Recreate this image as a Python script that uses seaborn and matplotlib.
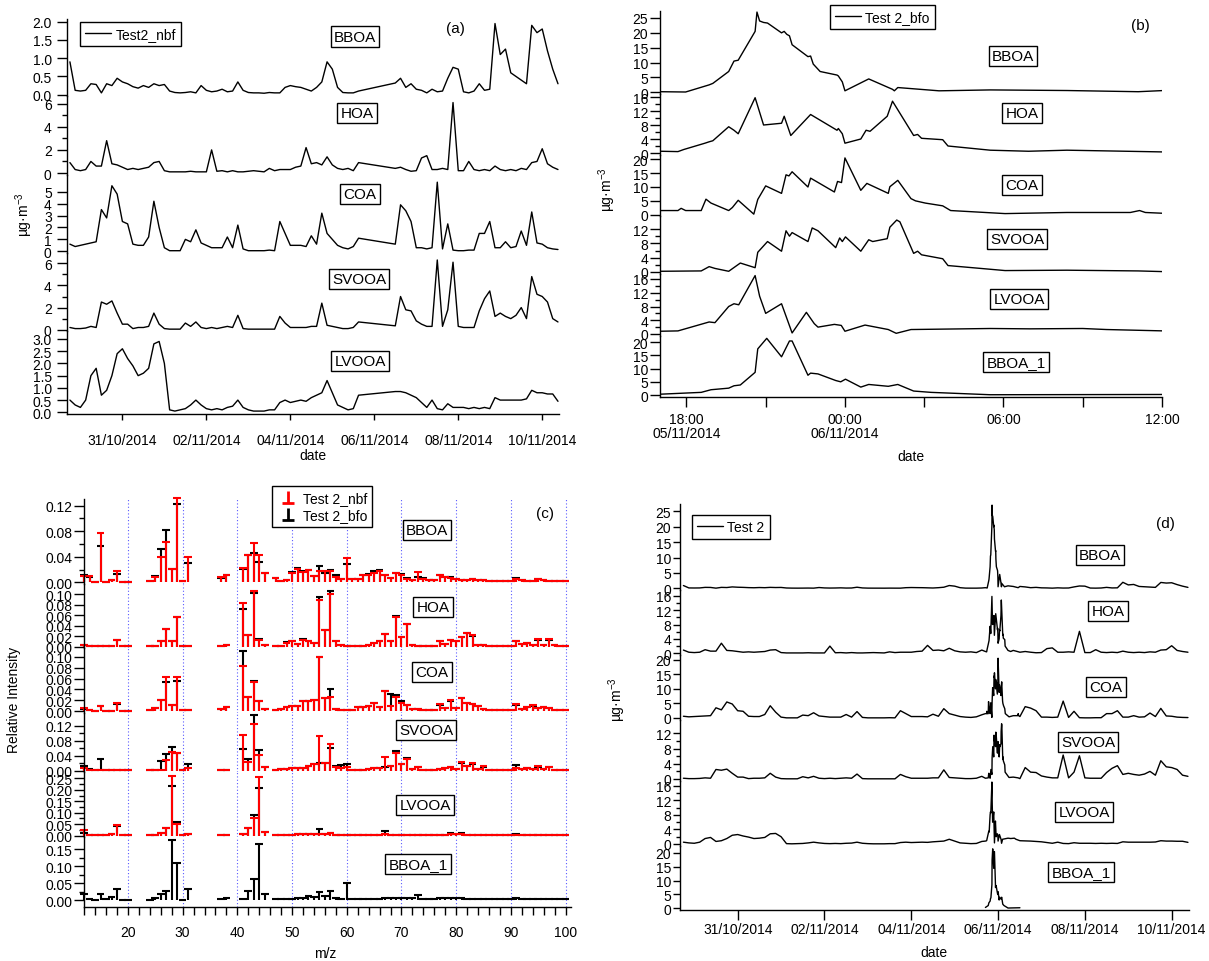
import numpy as np
import pandas as pd
import matplotlib
matplotlib.use("Agg")
import matplotlib.pyplot as plt
import matplotlib.dates as mdates
from matplotlib.ticker import FixedLocator, FormatStrFormatter, MultipleLocator
from matplotlib.lines import Line2D
from matplotlib.path import Path
import seaborn as sns

# ---------------- data ----------------
factors = ["BBOA", "HOA", "COA", "SVOOA", "LVOOA", "BBOA_1"]

# panel (a): Test2_nbf, 3-hourly readings (gap 05/11 16h - 06/11 11h)
bboa_a = [
    0.9, 0.12,
    0.1, 0.12, 0.3, 0.28, 0.05, 0.3, 0.25, 0.45,
    0.35, 0.3, 0.22, 0.18, 0.25, 0.2, 0.3, 0.25,
    0.28, 0.1, 0.06, 0.05, 0.06, 0.08, 0.05, 0.25,
    0.12, 0.08, 0.1, 0.15, 0.08, 0.1, 0.35, 0.12,
    0.06, 0.05, 0.05, 0.04, 0.06, 0.05, 0.05, 0.2,
    0.25, 0.22, 0.2, 0.15, 0.1, 0.2, 0.35, 0.9,
    0.7, 0.2, 0.06, 0.05, 0.05, 0.1,
    0.32, 0.45, 0.2, 0.3,
    0.15, 0.12, 0.05, 0.15, 0.08, 0.1, 0.45, 0.75,
    0.7, 0.08, 0.05, 0.1, 0.3, 0.12, 0.15, 1.95,
    1.1, 1.25, 0.6, 0.5, 0.4, 0.3, 1.9, 1.7,
    1.8, 1.2, 0.7, 0.3,
]
hoa_a = [
    0.9, 0.3,
    0.2, 0.3, 1.0, 0.6, 0.6, 2.8, 0.8, 0.7,
    0.5, 0.3, 0.4, 0.3, 0.4, 0.5, 0.9, 1.0,
    0.2, 0.1, 0.1, 0.1, 0.1, 0.15, 0.1, 0.1,
    0.1, 2.0, 0.15, 0.2, 0.1, 0.2, 0.1, 0.1,
    0.15, 0.2, 0.15, 0.1, 0.4, 0.2, 0.3, 0.3,
    0.3, 0.5, 0.6, 2.2, 0.8, 0.9, 0.7, 1.4,
    0.7, 0.4, 0.3, 0.4, 0.2, 0.9,
    0.4, 0.5, 0.3, 0.15,
    0.2, 1.3, 1.5, 0.3, 0.3, 0.4, 0.3, 6.1,
    0.2, 0.2, 1.0, 0.3, 0.2, 0.3, 0.2, 0.6,
    0.3, 0.2, 0.3, 0.2, 0.4, 0.3, 0.9, 1.0,
    2.1, 0.8, 0.5, 0.3,
]
coa_a = [
    0.6, 0.4,
    0.5, 0.6, 0.7, 0.8, 3.5, 2.8, 5.5, 4.8,
    2.5, 2.3, 0.6, 0.5, 0.5, 1.2, 4.2, 2.0,
    0.3, 0.05, 0.05, 0.05, 1.0, 0.8, 1.8, 0.7,
    0.5, 0.3, 0.3, 0.3, 1.2, 0.3, 2.2, 0.2,
    0.05, 0.05, 0.05, 0.05, 0.1, 0.05, 2.5, 1.5,
    0.5, 0.5, 0.5, 0.4, 1.3, 0.6, 3.2, 1.5,
    1.0, 0.5, 0.3, 0.2, 0.4, 1.1,
    0.6, 3.9, 3.4, 2.5,
    0.3, 0.3, 0.2, 0.3, 5.8, 0.2, 2.3, 0.1,
    0.05, 0.05, 0.1, 0.1, 1.5, 1.5, 2.5, 0.3,
    0.3, 0.8, 0.3, 0.4, 1.7, 0.5, 3.3, 0.7,
    0.6, 0.3, 0.2, 0.15,
]
svooa_a = [
    0.2, 0.1,
    0.1, 0.15, 0.3, 0.2, 2.5, 2.3, 2.6, 1.5,
    0.5, 0.5, 0.1, 0.2, 0.2, 0.3, 1.5, 0.5,
    0.1, 0.05, 0.05, 0.05, 0.6, 0.3, 0.7, 0.2,
    0.1, 0.2, 0.1, 0.2, 0.3, 0.2, 1.3, 0.1,
    0.05, 0.05, 0.05, 0.05, 0.05, 0.05, 1.2, 0.6,
    0.2, 0.2, 0.2, 0.2, 0.3, 0.3, 2.4, 0.4,
    0.3, 0.2, 0.1, 0.1, 0.2, 0.7,
    0.35, 3.0, 1.8, 1.7,
    0.8, 0.5, 0.3, 0.3, 6.3, 0.3, 1.8, 6.1,
    0.3, 0.2, 0.2, 0.2, 1.7, 2.8, 3.5, 1.2,
    1.5, 1.2, 1.0, 1.3, 2.0, 1.0, 4.8, 3.2,
    3.0, 2.5, 1.0, 0.7,
]
lvooa_a = [
    0.5, 0.3,
    0.2, 0.5, 1.5, 1.8, 0.7, 0.9, 1.5, 2.4,
    2.6, 2.2, 1.9, 1.5, 1.6, 1.8, 2.8, 2.9,
    2.0, 0.1, 0.05, 0.1, 0.15, 0.3, 0.5, 0.3,
    0.15, 0.1, 0.15, 0.1, 0.2, 0.25, 0.5, 0.2,
    0.1, 0.05, 0.05, 0.05, 0.1, 0.1, 0.4, 0.5,
    0.4, 0.45, 0.5, 0.45, 0.6, 0.7, 0.8, 1.3,
    0.8, 0.3, 0.2, 0.1, 0.15, 0.7,
    0.85, 0.85, 0.8, 0.7,
    0.6, 0.4, 0.2, 0.5, 0.15, 0.1, 0.35, 0.2,
    0.2, 0.2, 0.15, 0.2, 0.15, 0.2, 0.15, 0.6,
    0.5, 0.5, 0.5, 0.5, 0.5, 0.55, 0.9, 0.8,
    0.8, 0.75, 0.75, 0.45,
]

# panel (b): Test 2_bfo, hours counted from 05/11/2014 00:00
hrs_bboa_b = [17.0, 17.97, 18.86, 19.0, 19.6, 19.8, 19.96, 20.6, 20.67, 20.77, 20.92, 21.07,
              21.6, 21.7, 21.8, 21.9, 22.0, 22.6, 22.7, 22.8, 23.06, 23.7, 23.75, 23.9, 24.0,
              24.9, 25.8, 25.87, 26.0, 27.56, 29.5, 32.4, 35.1, 36.08]
bboa_b = [0.2, 0.1, 2.5, 3.0, 7.0, 10.5, 10.8, 20.5, 27.0, 24.0, 23.5, 23.3,
          20.0, 20.5, 19.5, 19.0, 16.0, 12.0, 12.2, 9.5, 7.0, 5.8, 5.5, 3.5, 0.5,
          4.5, 1.0, 0.5, 1.6, 0.5, 0.8, 0.6, 0.2, 0.6]
hrs_hoa_b = [17.0, 17.68, 17.9, 18.7, 18.86, 19.0, 19.6, 19.8, 19.96, 20.6, 20.92, 21.6,
             21.7, 21.95, 22.7, 23.7, 23.75, 23.9, 24.0, 24.6, 24.8, 24.95, 25.6, 25.8,
             26.6, 26.75, 26.9, 27.7, 27.9, 29.5, 30.95, 32.4, 33.9, 36.08]
hoa_b = [0.5, 0.4, 1.0, 2.8, 3.2, 3.5, 7.5, 6.5, 5.5, 15.8, 8.0, 8.5,
         10.5, 5.0, 11.0, 6.5, 7.0, 5.5, 2.8, 4.0, 6.5, 6.2, 10.5, 14.8,
         5.0, 5.3, 4.2, 3.8, 2.0, 0.8, 0.5, 0.8, 0.6, 0.3]
hrs_coa_b = [17.0, 17.68, 17.8, 17.97, 18.56, 18.74, 18.93, 19.6, 19.74, 19.96, 20.55, 20.7,
             21.0, 21.6, 21.77, 21.88, 22.0, 22.6, 22.7, 23.6, 23.72, 23.87, 24.0, 24.6,
             24.83, 25.64, 25.7, 26.0, 26.5, 26.67, 27.04, 27.7, 28.0, 30.06, 32.4, 34.8,
             35.15, 35.37, 36.08]
coa_b = [1.5, 1.5, 2.3, 1.5, 1.5, 5.6, 4.2, 1.5, 2.6, 5.2, 0.2, 5.5,
         10.4, 7.7, 14.4, 14.0, 15.5, 10.0, 13.2, 8.2, 12.0, 11.6, 20.5, 8.8,
         11.3, 7.7, 10.1, 12.4, 5.8, 5.0, 4.2, 3.2, 1.5, 0.4, 0.8, 0.8,
         1.5, 0.8, 0.5]
hrs_svooa_b = [17.0, 18.56, 18.86, 19.08, 19.6, 20.04, 20.6, 20.7, 21.07, 21.6, 21.77, 21.9,
               22.0, 22.6, 22.76, 22.98, 23.65, 23.8, 23.9, 24.02, 24.6, 24.9, 25.05, 25.6,
               25.7, 25.96, 26.08, 26.6, 26.75, 26.9, 27.7, 27.9, 30.06, 32.4, 35.1, 36.08]
svooa_b = [0.2, 0.3, 1.5, 1.0, 0.2, 2.5, 1.2, 5.5, 8.5, 5.8, 11.5, 10.0,
           11.0, 8.5, 12.3, 11.5, 6.8, 9.5, 8.5, 9.8, 5.8, 9.0, 8.5, 9.3,
           12.5, 14.5, 14.0, 5.2, 5.8, 4.8, 3.7, 1.8, 0.4, 0.5, 0.3, 0.1]
hrs_lvooa_b = [17.0, 17.68, 18.86, 19.08, 19.6, 19.8, 19.98, 20.6, 20.77, 21.0, 21.6, 22.0,
               22.54, 22.84, 22.98, 23.6, 23.86, 24.0, 24.76, 25.64, 25.94, 26.5, 29.5, 31.0,
               33.0, 33.9, 36.08]
lvooa_b = [0.8, 0.9, 3.5, 3.3, 8.0, 8.8, 8.5, 17.0, 11.0, 6.0, 8.8, 0.3,
           6.3, 3.0, 2.0, 2.8, 2.5, 0.8, 2.6, 1.3, 0.2, 1.3, 1.6, 1.5,
           1.6, 1.3, 0.9]
hrs_bboa1_b = [17.0, 18.56, 18.93, 19.6, 19.8, 20.04, 20.6, 20.7, 21.04, 21.6, 21.8, 21.9,
               22.0, 22.6, 22.7, 22.98, 23.65, 23.84, 24.02, 24.6, 24.9, 25.64, 26.0, 26.6,
               27.26, 29.5, 36.08]
bboa1_b = [0.3, 1.0, 2.0, 2.6, 3.5, 3.8, 8.6, 17.5, 21.5, 14.5, 18.5, 20.5,
           20.5, 7.5, 8.3, 8.0, 5.5, 5.0, 6.0, 3.0, 4.0, 3.3, 4.0, 1.5,
           1.0, 0.1, 0.2]

# panel (c): mass spectra, m/z 12-20, 24-31, 37-38, 41-45, 47-100
mz = np.array(list(range(12, 21)) + list(range(24, 32)) + [37, 38]
              + list(range(41, 46)) + list(range(47, 101)))
bboa_nbf = [0.010, 0.010, 0.001, 0.077, 0.001, 0.003, 0.017, 0.001, 0.001,
            0.002, 0.008, 0.039, 0.063, 0.021, 0.132, 0.002, 0.040,
            0.008, 0.011,
            0.022, 0.043, 0.062, 0.043, 0.015,
            0.007, 0.002, 0.003, 0.015, 0.021, 0.016, 0.020, 0.010, 0.018, 0.017,
            0.017, 0.008, 0.005, 0.038, 0.005, 0.005, 0.011, 0.012, 0.014, 0.018,
            0.012, 0.006, 0.015, 0.012, 0.005, 0.004, 0.016, 0.005, 0.003, 0.004,
            0.012, 0.008, 0.007, 0.005, 0.004, 0.003, 0.005, 0.004, 0.003, 0.002,
            0.002, 0.002, 0.002, 0.002, 0.005, 0.003, 0.002, 0.002, 0.005, 0.003,
            0.002, 0.002, 0.002, 0.002]
bboa_bfo = [0.012, 0.008, 0.001, 0.057, 0.001, 0.003, 0.013, 0.001, 0.001,
            0.002, 0.010, 0.052, 0.082, 0.021, 0.122, 0.002, 0.030,
            0.007, 0.012,
            0.021, 0.042, 0.046, 0.032, 0.014,
            0.006, 0.002, 0.003, 0.016, 0.023, 0.017, 0.019, 0.010, 0.026, 0.015,
            0.020, 0.012, 0.005, 0.029, 0.005, 0.005, 0.011, 0.013, 0.017, 0.019,
            0.012, 0.007, 0.015, 0.013, 0.006, 0.004, 0.009, 0.006, 0.003, 0.004,
            0.012, 0.009, 0.008, 0.005, 0.004, 0.003, 0.005, 0.004, 0.003, 0.002,
            0.002, 0.002, 0.002, 0.002, 0.006, 0.003, 0.002, 0.002, 0.005, 0.003,
            0.002, 0.002, 0.002, 0.002]
hoa_nbf = [0.003, 0.001, 0.001, 0.001, 0.001, 0.001, 0.013, 0.001, 0.001,
           0.001, 0.002, 0.011, 0.034, 0.011, 0.056, 0.001, 0.001,
           0.002, 0.004,
           0.083, 0.023, 0.107, 0.013, 0.003,
           0.002, 0.002, 0.008, 0.011, 0.005, 0.013, 0.011, 0.008, 0.089, 0.031,
           0.100, 0.010, 0.003, 0.001, 0.001, 0.001, 0.002, 0.004, 0.008, 0.010,
           0.024, 0.010, 0.056, 0.018, 0.043, 0.003, 0.002, 0.002, 0.002, 0.002,
           0.011, 0.005, 0.012, 0.010, 0.019, 0.026, 0.022, 0.004, 0.003, 0.002,
           0.002, 0.002, 0.002, 0.002, 0.011, 0.005, 0.008, 0.004, 0.014, 0.004,
           0.014, 0.003, 0.002, 0.001]
hoa_bfo = [0.003, 0.001, 0.001, 0.001, 0.001, 0.001, 0.012, 0.001, 0.001,
           0.001, 0.002, 0.011, 0.034, 0.011, 0.057, 0.001, 0.001,
           0.002, 0.004,
           0.072, 0.023, 0.103, 0.015, 0.003,
           0.002, 0.002, 0.009, 0.011, 0.005, 0.014, 0.011, 0.008, 0.094, 0.031,
           0.107, 0.010, 0.003, 0.001, 0.001, 0.001, 0.002, 0.004, 0.008, 0.010,
           0.025, 0.010, 0.058, 0.018, 0.044, 0.003, 0.002, 0.002, 0.002, 0.002,
           0.010, 0.005, 0.012, 0.010, 0.019, 0.027, 0.021, 0.004, 0.003, 0.002,
           0.002, 0.002, 0.002, 0.002, 0.010, 0.005, 0.008, 0.004, 0.013, 0.004,
           0.013, 0.003, 0.002, 0.001]
coa_nbf = [0.006, 0.003, 0.001, 0.009, 0.001, 0.001, 0.015, 0.001, 0.001,
           0.002, 0.006, 0.021, 0.063, 0.012, 0.063, 0.002, 0.002,
           0.005, 0.008,
           0.083, 0.027, 0.053, 0.018, 0.004,
           0.003, 0.005, 0.008, 0.010, 0.009, 0.019, 0.019, 0.021, 0.099, 0.025,
           0.026, 0.005, 0.003, 0.003, 0.002, 0.008, 0.008, 0.010, 0.016, 0.008,
           0.037, 0.010, 0.026, 0.016, 0.012, 0.005, 0.004, 0.003, 0.003, 0.003,
           0.013, 0.006, 0.021, 0.006, 0.025, 0.016, 0.013, 0.009, 0.004, 0.002,
           0.002, 0.002, 0.002, 0.003, 0.013, 0.005, 0.007, 0.011, 0.006, 0.007,
           0.006, 0.003, 0.002, 0.002]
coa_bfo = [0.005, 0.003, 0.001, 0.009, 0.001, 0.001, 0.013, 0.001, 0.001,
           0.002, 0.006, 0.020, 0.053, 0.012, 0.055, 0.002, 0.002,
           0.005, 0.008,
           0.111, 0.027, 0.055, 0.018, 0.004,
           0.003, 0.005, 0.008, 0.010, 0.009, 0.019, 0.019, 0.021, 0.100, 0.025,
           0.041, 0.005, 0.003, 0.003, 0.002, 0.008, 0.008, 0.010, 0.015, 0.008,
           0.038, 0.032, 0.029, 0.018, 0.012, 0.005, 0.004, 0.003, 0.003, 0.003,
           0.012, 0.006, 0.019, 0.006, 0.024, 0.016, 0.013, 0.009, 0.004, 0.002,
           0.002, 0.002, 0.002, 0.003, 0.012, 0.005, 0.007, 0.010, 0.006, 0.007,
           0.006, 0.003, 0.002, 0.002]
svooa_nbf = [0.008, 0.003, 0.001, 0.003, 0.002, 0.002, 0.002, 0.001, 0.001,
             0.001, 0.002, 0.003, 0.028, 0.051, 0.048, 0.002, 0.006,
             0.001, 0.002,
             0.095, 0.023, 0.124, 0.042, 0.011,
             0.003, 0.004, 0.005, 0.006, 0.008, 0.008, 0.012, 0.017, 0.093, 0.020,
             0.072, 0.010, 0.008, 0.010, 0.003, 0.003, 0.003, 0.005, 0.008, 0.006,
             0.036, 0.012, 0.047, 0.017, 0.030, 0.004, 0.010, 0.003, 0.003, 0.003,
             0.005, 0.008, 0.010, 0.005, 0.024, 0.012, 0.021, 0.004, 0.012, 0.003,
             0.003, 0.003, 0.003, 0.003, 0.008, 0.004, 0.008, 0.004, 0.012, 0.005,
             0.010, 0.003, 0.002, 0.002]
svooa_bfo = [0.012, 0.005, 0.001, 0.032, 0.002, 0.002, 0.002, 0.001, 0.001,
             0.001, 0.003, 0.026, 0.045, 0.063, 0.048, 0.002, 0.019,
             0.001, 0.002,
             0.059, 0.032, 0.148, 0.055, 0.011,
             0.003, 0.004, 0.005, 0.006, 0.008, 0.008, 0.012, 0.017, 0.021, 0.020,
             0.061, 0.012, 0.015, 0.017, 0.003, 0.003, 0.003, 0.005, 0.008, 0.006,
             0.010, 0.012, 0.052, 0.017, 0.034, 0.004, 0.010, 0.003, 0.003, 0.003,
             0.005, 0.008, 0.010, 0.005, 0.020, 0.012, 0.018, 0.004, 0.010, 0.003,
             0.003, 0.003, 0.003, 0.003, 0.016, 0.004, 0.008, 0.004, 0.010, 0.005,
             0.009, 0.003, 0.002, 0.002]
lvooa_nbf = [0.023, 0.003, 0.001, 0.004, 0.003, 0.008, 0.046, 0.002, 0.001,
             0.002, 0.004, 0.010, 0.035, 0.260, 0.050, 0.003, 0.008,
             0.002, 0.004,
             0.008, 0.032, 0.076, 0.256, 0.017,
             0.004, 0.004, 0.004, 0.004, 0.006, 0.006, 0.006, 0.006, 0.007, 0.008,
             0.010, 0.004, 0.004, 0.004, 0.004, 0.004, 0.004, 0.004, 0.004, 0.004,
             0.008, 0.005, 0.004, 0.004, 0.004, 0.004, 0.004, 0.004, 0.004, 0.004,
             0.004, 0.004, 0.008, 0.006, 0.006, 0.003, 0.003, 0.003, 0.003, 0.003,
             0.003, 0.003, 0.003, 0.003, 0.005, 0.003, 0.003, 0.003, 0.003, 0.003,
             0.003, 0.003, 0.003, 0.003]
lvooa_bfo = [0.013, 0.003, 0.001, 0.005, 0.003, 0.008, 0.042, 0.002, 0.001,
             0.002, 0.004, 0.010, 0.035, 0.217, 0.060, 0.003, 0.008,
             0.002, 0.004,
             0.008, 0.032, 0.089, 0.206, 0.015,
             0.004, 0.004, 0.004, 0.004, 0.006, 0.006, 0.008, 0.006, 0.028, 0.008,
             0.010, 0.004, 0.004, 0.004, 0.004, 0.004, 0.004, 0.004, 0.004, 0.004,
             0.020, 0.005, 0.004, 0.004, 0.004, 0.004, 0.004, 0.004, 0.004, 0.004,
             0.004, 0.004, 0.010, 0.006, 0.010, 0.003, 0.003, 0.003, 0.003, 0.003,
             0.003, 0.003, 0.003, 0.003, 0.008, 0.003, 0.003, 0.003, 0.003, 0.003,
             0.003, 0.003, 0.003, 0.003]
bboa1_bfo = [0.018, 0.003, 0.001, 0.018, 0.004, 0.011, 0.032, 0.002, 0.001,
             0.002, 0.006, 0.017, 0.027, 0.175, 0.110, 0.002, 0.032,
             0.003, 0.006,
             0.003, 0.027, 0.061, 0.165, 0.017,
             0.003, 0.003, 0.003, 0.004, 0.006, 0.008, 0.012, 0.010, 0.025, 0.012,
             0.028, 0.008, 0.005, 0.050, 0.003, 0.003, 0.003, 0.003, 0.003, 0.005,
             0.008, 0.006, 0.008, 0.007, 0.006, 0.007, 0.016, 0.004, 0.004, 0.005,
             0.007, 0.006, 0.007, 0.006, 0.007, 0.004, 0.003, 0.003, 0.003, 0.003,
             0.003, 0.003, 0.003, 0.003, 0.006, 0.003, 0.003, 0.003, 0.004, 0.003,
             0.004, 0.003, 0.003, 0.003]

date_ticks = ["31/10/2014", "02/11/2014", "04/11/2014", "06/11/2014", "08/11/2014", "10/11/2014"]
b_ticks = ["2014-11-05 18:00", "2014-11-06 00:00", "2014-11-06 06:00", "2014-11-06 12:00"]
b_ticklabels = ["18:00\n05/11/2014", "00:00\n06/11/2014", "06:00", "12:00"]
b_minor = ["2014-11-05 21:00", "2014-11-06 03:00", "2014-11-06 09:00"]

# ---------------- time axes ----------------
t_a = pd.date_range("2014-10-29 18:00", "2014-11-10 09:00", freq="3h")
t_a = t_a[(t_a < "2014-11-05 16:00") | (t_a > "2014-11-06 11:00")]
day5 = pd.Timestamp("2014-11-05")


def b_times(hours):
    return day5 + pd.to_timedelta(hours, unit="h")


def merged(a_vals, hours, b_vals):
    a = pd.Series(a_vals, index=t_a)
    keep = (a.index < day5 + pd.Timedelta(hours=17)) | (a.index > day5 + pd.Timedelta(hours=36.1))
    b = pd.Series(b_vals, index=b_times(hours))
    return pd.concat([a[keep], b]).sort_index()


series_a = [bboa_a, hoa_a, coa_a, svooa_a, lvooa_a]
series_b = [(hrs_bboa_b, bboa_b), (hrs_hoa_b, hoa_b), (hrs_coa_b, coa_b),
            (hrs_svooa_b, svooa_b), (hrs_lvooa_b, lvooa_b), (hrs_bboa1_b, bboa1_b)]
spectra_nbf = [bboa_nbf, hoa_nbf, coa_nbf, svooa_nbf, lvooa_nbf, None]
spectra_bfo = [bboa_bfo, hoa_bfo, coa_bfo, svooa_bfo, lvooa_bfo, bboa1_bfo]

# ---------------- style ----------------
sns.set_theme(style="ticks")
plt.rcParams["font.family"] = ["Liberation Sans", "DejaVu Sans"]
plt.rcParams["mathtext.fontset"] = "custom"
plt.rcParams["mathtext.rm"] = "Liberation Sans"
plt.rcParams["mathtext.it"] = "Liberation Sans:italic"
for k in ["axes.edgecolor", "xtick.color", "ytick.color", "text.color", "axes.labelcolor"]:
    plt.rcParams[k] = "black"
plt.rcParams["axes.linewidth"] = 1.0

W, H = 1209, 962
fig = plt.figure(figsize=(W / 100, H / 100), dpi=100)


def fpos(x, y):
    return x / W, 1 - y / H


def stack(left, right, rows, ticks, fmt, ylen, ypad):
    axes = []
    for i, ((top, bottom, zero, ref, ref_val), (maj, mnr)) in enumerate(zip(rows, ticks)):
        ax = fig.add_axes([left / W, 1 - bottom / H, (right - left) / W, (bottom - top) / H])
        s = (zero - ref) / ref_val
        ax.set_ylim((zero - bottom) / s, (zero - top) / s)
        ax.patch.set_visible(False)
        ax.spines[["top", "right"]].set_visible(False)
        ax.spines["bottom"].set_visible(i == len(rows) - 1)
        ax.yaxis.set_major_locator(FixedLocator(np.arange(0, ref_val + 1e-9, maj)))
        if mnr:
            ax.yaxis.set_minor_locator(FixedLocator(np.arange(0, ref_val + 1e-9, mnr)))
        ax.yaxis.set_major_formatter(FormatStrFormatter(fmt[i]))
        ax.tick_params(axis="y", which="major", direction="out", length=ylen, width=1,
                       pad=ypad, labelsize=10)
        ax.tick_params(axis="y", which="minor", direction="out", length=ylen * 0.55, width=1)
        if i < len(rows) - 1:
            ax.tick_params(axis="x", which="both", bottom=False, labelbottom=False)
        axes.append(ax)
    return axes


def label_box(x, y, text):
    fig.text(*fpos(x, y), text, ha="center", va="center", fontsize=11,
             bbox=dict(boxstyle="square,pad=0.2", fc="white", ec="black", lw=1))


def legend(handles, labels, x, y, **kw):
    lg = fig.legend(handles, labels, loc="upper left", bbox_to_anchor=fpos(x, y),
                    frameon=True, fancybox=False, edgecolor="black", framealpha=1,
                    fontsize=10, borderaxespad=0, borderpad=0.35, handletextpad=0.3, **kw)
    lg.get_frame().set_linewidth(1)


def line_panel(axes, data, xlim):
    for ax, (t, v) in zip(axes, data):
        sns.lineplot(x=t, y=v, ax=ax, color="black", linewidth=1.0, estimator=None)
        ax.set_xlim(*xlim)
        ax.set_xlabel("")
        ax.set_ylabel("")


xlim_ad = mdates.date2num([pd.Timestamp("2014-10-29 16:20"), pd.Timestamp("2014-11-10 09:35")])
xlim_b = mdates.date2num([pd.Timestamp("2014-11-05 17:00"), pd.Timestamp("2014-11-06 12:00")])
date_pos = mdates.date2num(pd.to_datetime(date_ticks, format="%d/%m/%Y"))

# ---------------- panel (a) ----------------
rows_a = [(20, 97, 95.7, 22.7, 2.0), (97, 176, 174, 104.7, 6), (176, 254, 252.3, 192.7, 5),
          (254, 332, 330.7, 264.3, 6), (332, 415, 413.3, 340, 3.0)]
ticks_a = [(0.5, None), (2, 1), (1, None), (2, 1), (0.5, None)]
axes_a = stack(67, 559, rows_a, ticks_a, ["%.1f", "%d", "%d", "%d", "%.1f"], 7, 4)
line_panel(axes_a, [(t_a, v) for v in series_a], xlim_ad)
axes_a[-1].set_xticks(date_pos, date_ticks)
axes_a[-1].tick_params(axis="x", direction="out", length=4, width=1, pad=10, labelsize=10)
for (x, y), name in zip([(355, 37.5), (357, 114), (360, 195), (359, 280), (360, 362)], factors):
    label_box(x, y, name)
legend([Line2D([], [], color="black", lw=1)], ["Test2_nbf"], 80, 23, handlelength=1.9)
fig.text(*fpos(455, 29), "(a)", ha="center", va="center", fontsize=11)
fig.text(*fpos(313, 456), "date", ha="center", va="center", fontsize=10)
fig.text(*fpos(24, 215), "µg·m$^{-3}$", ha="center", va="center", rotation=90, fontsize=10)

# ---------------- panel (b) ----------------
rows_b = [(12, 95, 93.3, 19, 25), (95, 156, 154, 98, 16), (156, 217, 215.7, 160.3, 20),
          (217, 275, 273, 230, 12), (275, 337, 335, 280, 16), (337, 398, 396, 343.3, 20)]
ticks_b = [(5, None), (4, 2), (5, None), (4, 2), (4, 2), (5, None)]
axes_b = stack(660, 1162, rows_b, ticks_b, ["%d"] * 6, 7, 1.5)
line_panel(axes_b, [(b_times(h), v) for h, v in series_b], xlim_b)
ax = axes_b[-1]
ax.set_xticks(mdates.date2num(pd.to_datetime(b_ticks)), b_ticklabels)
ax.set_xticks(mdates.date2num(pd.to_datetime(b_minor)), minor=True)
ax.tick_params(axis="x", which="both", direction="out", length=7, width=1, pad=4, labelsize=10)
for lab in ax.get_xticklabels():
    lab.set_linespacing(1.0)
for (x, y), name in zip([(1013, 57), (1022, 114), (1022, 186), (1017, 240), (1019, 300),
                         (1016, 363)], factors):
    label_box(x, y, name)
legend([Line2D([], [], color="black", lw=1)], ["Test 2_bfo"], 830, 6, handlelength=1.9)
fig.text(*fpos(1140, 26), "(b)", ha="center", va="center", fontsize=11)
fig.text(*fpos(911, 457), "date", ha="center", va="center", fontsize=10)
fig.text(*fpos(607, 190), "µg·m$^{-3}$", ha="center", va="center", rotation=90, fontsize=10)

# ---------------- panel (c) ----------------
rows_c = [(500, 585, 583.3, 506.7, 0.12), (585, 649, 647.7, 595.3, 0.10),
          (649, 714, 712.3, 657.7, 0.10), (714, 773, 771.7, 726.7, 0.12),
          (773, 838, 836.7, 779.3, 0.25), (838, 908, 901.3, 850, 0.15)]
ticks_c = [(0.04, 0.02), (0.02, None), (0.02, None), (0.04, 0.02), (0.05, 0.025), (0.05, 0.025)]
axes_c = stack(84.2, 571, rows_c, ticks_c, ["%.2f"] * 6, 7, 1.5)
for ax, nbf, bfo in zip(axes_c, spectra_nbf, spectra_bfo):
    ax.set_xlim(12, 101)
    for g in range(20, 101, 10):
        ax.axvline(g, color="#5a5aff", ls=(0, (1, 2)), lw=0.8, zorder=0)
    for vals, col in [(bfo, "black"), (nbf, "red")]:
        if vals is None:
            continue
        ax.vlines(mz, 0, vals, color=col, lw=1.5, clip_on=False)
        ax.hlines(vals, mz - 0.7, mz + 0.7, color=col, lw=1.5, clip_on=False)
ax = axes_c[-1]
ax.xaxis.set_major_locator(FixedLocator(np.arange(20, 101, 10)))
ax.xaxis.set_minor_locator(MultipleLocator(2))
ax.xaxis.set_major_formatter(FormatStrFormatter("%d"))
ax.tick_params(axis="x", which="both", direction="out", length=6, width=1, pad=7, labelsize=10)
for (x, y), name in zip([(427, 531), (433, 608), (432, 673), (426, 731), (425, 806),
                         (418, 865)], factors):
    label_box(x, y, name)
perp = Path([(-0.5, -0.5), (0.5, -0.5), (0, -0.5), (0, 0.5)],
            [Path.MOVETO, Path.LINETO, Path.MOVETO, Path.LINETO])
hands = [Line2D([], [], color=c, marker=perp, ls="None", markersize=9, markeredgewidth=2,
                markerfacecolor="none") for c in ["red", "black"]]
legend(hands, ["Test 2_nbf", "Test 2_bfo"], 272, 487, handlelength=1.6, labelspacing=0.25)
fig.text(*fpos(545, 514), "(c)", ha="center", va="center", fontsize=11)
fig.text(*fpos(325, 954), "m/z", ha="center", va="center", fontsize=10)
fig.text(*fpos(14, 700), "Relative Intensity", ha="center", va="center", rotation=90, fontsize=10)

# ---------------- panel (d) ----------------
rows_d = [(505, 591, 589.3, 512.3, 25), (591, 656, 654.3, 596.7, 16), (656, 721, 719, 660.7, 20),
          (721, 782, 780, 734.3, 12), (782, 847, 845, 786.7, 16), (847, 911, 909.3, 854, 20)]
axes_d = stack(680.4, 1189, rows_d, ticks_b, ["%d"] * 6, 5, 1.5)
data_d = [merged(a, h, b) for a, (h, b) in zip(series_a, series_b[:5])]
data_d = [(s.index, s.values) for s in data_d]
data_d.append((b_times(hrs_bboa1_b), bboa1_b))
line_panel(axes_d, data_d, xlim_ad)
axes_d[-1].set_xticks(date_pos, date_ticks)
axes_d[-1].tick_params(axis="x", direction="out", length=7, width=1, pad=2, labelsize=10)
for (x, y), name in zip([(1100, 556), (1108, 612), (1106, 688), (1088, 743), (1084, 813),
                         (1081, 873)], factors):
    label_box(x, y, name)
legend([Line2D([], [], color="black", lw=1)], ["Test 2"], 692, 516, handlelength=1.9)
fig.text(*fpos(1165, 524), "(d)", ha="center", va="center", fontsize=11)
fig.text(*fpos(934, 953), "date", ha="center", va="center", fontsize=10)
fig.text(*fpos(617, 700), "µg·m$^{-3}$", ha="center", va="center", rotation=90, fontsize=10)

fig.savefig("out.png", dpi=100, facecolor="white")
